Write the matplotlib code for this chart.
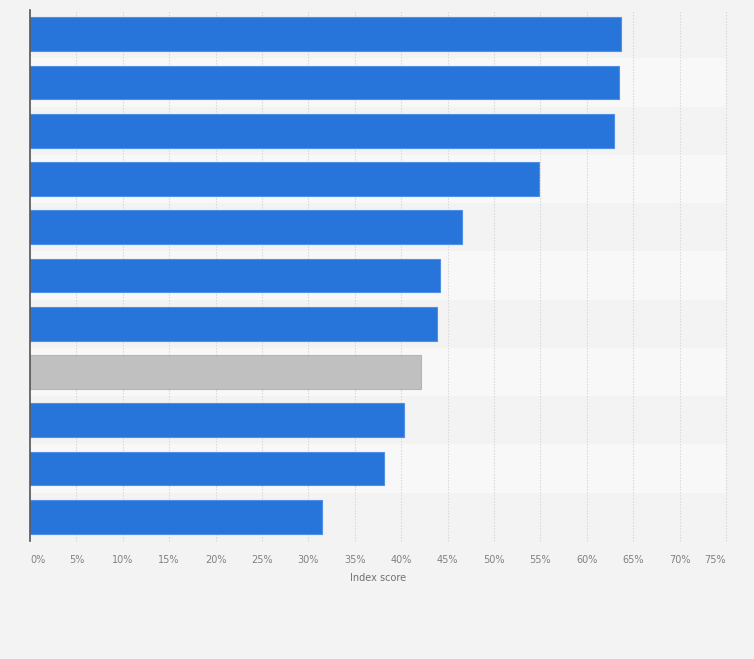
import matplotlib
matplotlib.use("Agg")
import matplotlib.pyplot as plt

# index score per row, top to bottom (row labels are not shown in the chart)
scores = [63.7, 63.5, 62.9, 54.9, 46.6, 44.2, 43.9, 42.1, 40.3, 38.2, 31.5]
highlight = [False, False, False, False, False, False, False, True, False, False, False]
ticks = [0, 5, 10, 15, 20, 25, 30, 35, 40, 45, 50, 55, 60, 65, 70, 75]

blue = "#2775db"
grey = "#c0c0c0"

fig = plt.figure(figsize=(7.54, 6.59), dpi=100, facecolor="#f3f3f3")
ax = fig.add_axes([30 / 754, 1 - 541 / 659, 696 / 754, 531 / 659])
ax.set_facecolor("#f3f3f3")

n = len(scores)
ypos = list(range(n))

# alternating row bands
for i in ypos:
    col = "#f3f3f3" if i % 2 == 0 else "#f8f8f8"
    ax.axhspan(i - 0.5, i + 0.5, color=col, zorder=0, lw=0)

ax.set_xlim(0, 75)
ax.set_ylim(n - 0.5, -0.5)

ax.set_xticks(ticks)
ax.grid(axis="x", color="#d6d6d6", linestyle=(0, (1.2, 1.5)), linewidth=0.8, zorder=1)
for gl in ax.get_xgridlines():
    gl.set_clip_on(False)

colors = [grey if h else blue for h in highlight]
edges = ["#b5b5b5" if h else "#4f8fe6" for h in highlight]
ax.barh(ypos, scores, height=0.7, color=colors, edgecolor=edges, linewidth=0.8, zorder=3)

for s in ["top", "right", "bottom"]:
    ax.spines[s].set_visible(False)
ax.spines["left"].set_color("#555555")
ax.spines["left"].set_linewidth(1.2)
ax.spines["left"].set_zorder(5)

ax.set_yticks([])
ax.tick_params(axis="x", length=0, pad=10, labelsize=7, labelcolor="#808080")
ax.set_xticklabels([f"{t}%" for t in ticks])
labels = ax.get_xticklabels()
labels[0].set_ha("left")
labels[-1].set_ha("right")

ax.set_xlabel("Index score", fontsize=7, color="#707070", labelpad=6)

fig.savefig("out.png", dpi=100, facecolor=fig.get_facecolor())
